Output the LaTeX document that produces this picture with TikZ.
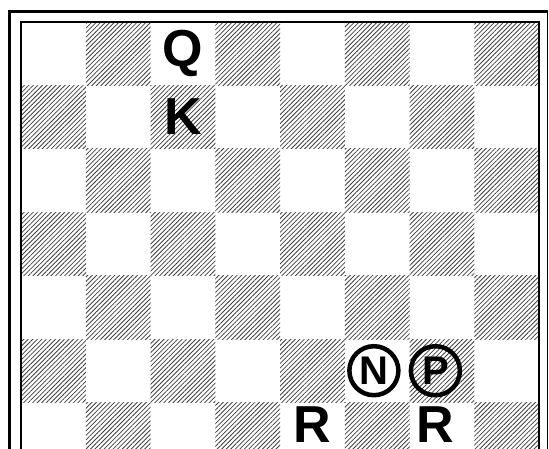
\documentclass[tikz,border=0pt]{standalone}
\usepackage{fontspec}
\setsansfont{Liberation Sans}
\usepackage{tikz}
\usetikzlibrary{patterns.meta}

\def\sqw{64.75}
\def\sqh{63.4}

\tikzset{
  darksq/.style={pattern={Lines[angle=45,distance=3.2pt,line width=0.8pt]}, pattern color=black!75},
  piece/.style={font=\sffamily\bfseries\fontsize{52}{52}\selectfont, inner sep=0pt},
  ringed/.style={circle, draw, line width=4.5pt, minimum size=49pt, inner sep=0pt,
    font=\sffamily\bfseries\fontsize{40}{40}\selectfont}
}

\begin{document}
\begin{tikzpicture}[x=1pt,y=-1pt]
        \useasboundingbox (0,0) rectangle (549,449);
        \clip (0,0) rectangle (549,449);
        \fill[white] (0,0) rectangle (549,449);

        % Board squares
        \foreach \r in {1,...,7}
          \foreach \c in {1,...,8} {
            \pgfmathtruncatemacro{\odd}{mod(\r+\c,2)}
            \ifnum\odd=1
              \fill[darksq] ({21+(\c-1)*\sqw},{22+(\r-1)*\sqh}) rectangle ({21+\c*\sqw},{22+\r*\sqh});
            \fi
          }

        % Frames
        \draw[line width=1.4pt] (21,449) -- (21,22) -- (539,22) -- (539,449);
        \draw[line width=3pt] (9.5,449) -- (9.5,11.5) -- (547.5,11.5);
        \draw[line width=1.4pt] (547.5,11.5) -- (547.5,449);

        % Pieces
        \node[piece] (queen) at ({21+2.5*\sqw},{22+0.5*\sqh}) {Q};
        \node[piece] (king) at ({21+2.5*\sqw},{22+1.5*\sqh}) {K};
        \node[ringed] (knight) at ({21+5.45*\sqw},{22+5.5*\sqh}) {N};
        \node[ringed] (pawn) at ({21+6.4*\sqw},{22+5.5*\sqh}) {P};
        \node[piece] (rookA) at ({21+4.5*\sqw},425) {R};
        \node[piece] (rookB) at ({21+6.4*\sqw},425) {R};
\end{tikzpicture}
\end{document}
